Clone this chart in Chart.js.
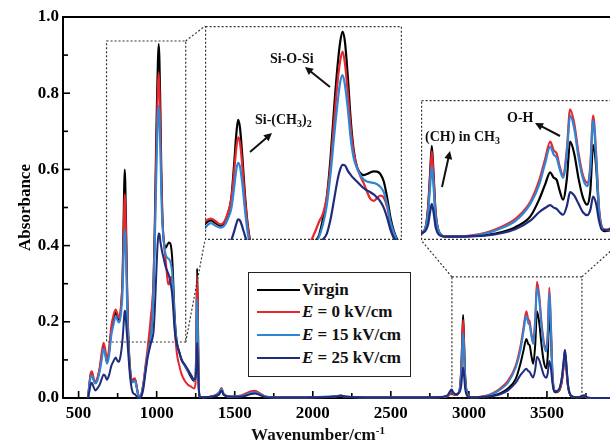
<!DOCTYPE html>
<html>
<head>
<meta charset="utf-8">
<script src="https://cdn.jsdelivr.net/npm/chart.js@4.4.0/dist/chart.umd.min.js"></script>
<style>
  html, body { margin:0; padding:0; background:#fff; overflow:hidden; }
  #wrap { position:relative; width:610px; height:440px; overflow:hidden; }
  canvas { position:absolute; }
  .txt { position:absolute; font-family:'Liberation Serif','Times New Roman',serif; font-weight:bold; white-space:nowrap; color:#111; }
  .note { font-size:14px; line-height:16px; }
  .note sub { font-size:10px; vertical-align:-3px; line-height:0; }
  #xtitle { font-size:17px; line-height:20px; left:0; width:636px; text-align:center; top:425px; }
  #xtitle sup { font-size:11px; vertical-align:6px; line-height:0; }
  #legend { position:absolute; left:248px; top:272px; width:161px; height:103px; border:1.5px solid #222; background:#fff; }
  #legend .key { position:absolute; left:8px; width:43px; height:2.5px; }
  #legend .lab { position:absolute; left:53px; font-size:17px; line-height:20px; }
</style>
</head>
<body>
<div id="wrap">
  <canvas id="mainChart" width="640" height="440" style="left:0;top:0"></canvas>
  <canvas id="inset1" width="197" height="214"></canvas>
  <canvas id="inset2" width="202" height="140"></canvas>
  <div class="txt note" style="left:270px;top:51px">Si-O-Si</div>
  <div class="txt note" style="left:255px;top:112px">Si-(CH<sub>3</sub>)<sub>2</sub></div>
  <div class="txt note" style="left:425px;top:129px">(CH) in CH<sub>3</sub></div>
  <div class="txt note" style="left:507px;top:110px">O-H</div>
  <div class="txt" id="xtitle">Wavenumber/cm<sup>-1</sup></div>
  <div id="legend"></div>
</div>
<script>
// spectra
const wavenumber = [560,568,577,585,595,607,620,635,648,660,
  670,681,695,710,725,738,748,758,766,774,
  781,787,791,795,799,804,809,815,822,830,
  840,850,860,870,880,891,903,915,928,942,
  955,964,972,980,988,996,1003,1008,1013,1018,
  1024,1030,1036,1043,1050,1057,1064,1071,1078,1085,
  1092,1099,1106,1113,1120,1130,1145,1160,1180,1200,
  1220,1238,1248,1254,1259,1264,1269,1276,1300,1360,
  1400,1415,1430,1480,1550,1600,1630,1660,1700,1800,
  2000,2150,2180,2210,2400,2600,2800,2860,2880,2890,
  2900,2920,2940,2950,2957,2963,2969,2976,2990,3010,
  3050,3100,3150,3200,3250,3300,3330,3350,3368,3380,
  3390,3400,3412,3425,3436,3450,3465,3480,3495,3505,
  3515,3525,3535,3545,3555,3568,3582,3596,3608,3615,
  3622,3635,3650,3670,3700,3740,3760,3800,3900,4000];

const virgin = [0,.03,.06,.065,.05,.04,.05,.075,.11,.135,
  .12,.095,.12,.18,.21,.225,.215,.205,.215,.25,
  .31,.44,.54,.60,.57,.46,.33,.21,.13,.075,
  .045,.048,.05,.035,.012,0,.01,.035,.075,.115,
  .145,.17,.23,.31,.46,.66,.81,.89,.929,.89,
  .76,.60,.49,.425,.402,.394,.398,.404,.408,.407,
  .398,.37,.31,.235,.185,.145,.12,.10,.085,.07,
  .055,.045,.05,.15,.34,.22,.05,.003,.002,.004,
  .01,.02,.008,.003,.005,.012,.015,.01,.003,.001,
  .002,.004,.006,.003,.001,.001,.002,.004,.012,.015,
  .01,.008,.02,.07,.15,.218,.15,.06,.01,.002,
  .002,.003,.006,.012,.025,.05,.09,.125,.155,.142,
  .137,.112,.09,.14,.228,.20,.14,.095,.078,.11,
  .22,.17,.06,.02,.015,.016,.022,.045,.09,.12,
  .09,.03,.008,.003,.002,.004,.001,0,0,0];

const e0 = [0,.035,.065,.07,.055,.042,.052,.08,.12,.145,
  .13,.10,.13,.19,.22,.232,.222,.21,.22,.255,
  .305,.41,.49,.535,.515,.425,.31,.205,.125,.075,
  .045,.05,.052,.035,.012,0,.012,.04,.085,.13,
  .18,.22,.25,.31,.43,.61,.75,.82,.855,.81,
  .70,.57,.48,.425,.39,.364,.332,.305,.298,.308,
  .318,.31,.275,.21,.16,.115,.085,.062,.045,.035,
  .03,.025,.035,.14,.32,.20,.045,.003,.002,.005,
  .015,.026,.01,.003,.008,.017,.019,.013,.003,.001,
  .002,.004,.006,.003,.001,.001,.002,.004,.01,.012,
  .01,.008,.02,.065,.14,.205,.14,.055,.01,.002,
  .002,.005,.012,.025,.045,.085,.135,.185,.228,.207,
  .20,.17,.148,.21,.305,.272,.20,.148,.13,.17,
  .29,.20,.07,.025,.018,.017,.022,.045,.09,.12,
  .09,.03,.008,.003,.002,.004,.001,0,0,0];

const e15 = [0,.03,.055,.06,.048,.038,.045,.07,.10,.13,
  .115,.09,.11,.165,.195,.215,.205,.198,.205,.232,
  .27,.35,.41,.44,.425,.36,.27,.18,.115,.065,
  .04,.042,.045,.03,.01,0,.01,.035,.075,.115,
  .14,.165,.21,.28,.40,.55,.67,.74,.767,.73,
  .64,.53,.46,.42,.395,.378,.37,.367,.365,.36,
  .35,.33,.285,.22,.18,.14,.12,.10,.085,.07,
  .06,.048,.05,.11,.26,.16,.04,.003,.002,.005,
  .014,.024,.01,.003,.006,.013,.015,.01,.003,.001,
  .002,.005,.007,.003,.001,.001,.002,.005,.015,.018,
  .012,.01,.02,.055,.12,.17,.12,.05,.01,.002,
  .002,.004,.01,.022,.04,.08,.125,.175,.216,.197,
  .19,.164,.142,.20,.29,.26,.19,.14,.122,.16,
  .278,.19,.065,.022,.018,.019,.027,.055,.10,.126,
  .10,.035,.008,.003,.002,.008,.001,0,0,0];

const e25 = [0,.015,.035,.04,.03,.02,.025,.035,.05,.062,
  .058,.048,.06,.085,.098,.106,.098,.095,.105,.125,
  .152,.185,.21,.229,.225,.20,.17,.135,.095,.055,
  .025,.012,.01,.005,.001,0,.005,.025,.065,.105,
  .13,.145,.155,.175,.23,.31,.38,.415,.432,.43,
  .41,.395,.382,.37,.357,.345,.337,.33,.322,.31,
  .295,.272,.235,.19,.16,.14,.12,.10,.088,.075,
  .06,.05,.05,.08,.145,.095,.03,.003,.002,.004,
  .01,.02,.008,.003,.004,.01,.012,.008,.002,.001,
  .002,.004,.006,.003,.001,.001,.002,.006,.018,.022,
  .015,.01,.015,.03,.06,.08,.06,.025,.005,.002,
  .002,.003,.005,.01,.02,.04,.06,.07,.077,.071,
  .068,.06,.054,.075,.108,.10,.08,.06,.053,.065,
  .097,.08,.04,.018,.018,.019,.027,.055,.10,.126,
  .10,.035,.008,.003,.002,.006,.001,0,0,0];

const seriesLabels = ["Virgin", "E = 0 kV/cm", "E = 15 kV/cm", "E = 25 kV/cm"];
const seriesColors = ["#000000", "#e8262d", "#2f86d4", "#1e2c7a"];
const xTickValues = [500, 1000, 1500, 2000, 2500, 3000, 3500];
const yTickValues = [0, 0.2, 0.4, 0.6, 0.8, 1.0];

// zoomed regions (data coords) and where their insets sit on the page
const zoomBoxes = [
  {xMin: 679, xMax: 1186, yMin: 0.147, yMax: 0.937},
  {xMin: 2891, xMax: 3724, yMin: 0, yMax: 0.318}
];
const insets = [
  {id: "inset1", left: 205, top: 26, width: 197, height: 214, xMin: 726, xMax: 1137, yMin: 0.152, yMax: 0.95},
  {id: "inset2", left: 421, top: 100, width: 202, height: 140, xMin: 2926, xMax: 3617, yMin: -0.006, yMax: 0.327}
];

const serif = "'Liberation Serif', 'Times New Roman', serif";
const allSeries = [virgin, e0, e15, e25];

function makeDatasets(lineWidth, clip) {
  return allSeries.map(function(values, k) {
    return {
      label: seriesLabels[k],
      data: wavenumber.map(function(x, i) { return {x: x, y: values[i]}; }),
      borderColor: seriesColors[k],
      borderWidth: lineWidth,
      pointRadius: 0,
      fill: false,
      order: 4 - k,
      clip: clip
    };
  });
}

function arrow(ctx, x1, y1, x2, y2) {
  var ang = Math.atan2(y2 - y1, x2 - x1);
  var hl = 8, hw = 4;
  ctx.beginPath();
  ctx.moveTo(x1, y1);
  ctx.lineTo(x2 - Math.cos(ang) * hl * 0.8, y2 - Math.sin(ang) * hl * 0.8);
  ctx.stroke();
  ctx.beginPath();
  ctx.moveTo(x2, y2);
  ctx.lineTo(x2 - hl * Math.cos(ang) + hw * Math.sin(ang), y2 - hl * Math.sin(ang) - hw * Math.cos(ang));
  ctx.lineTo(x2 - hl * Math.cos(ang) - hw * Math.sin(ang), y2 - hl * Math.sin(ang) + hw * Math.cos(ang));
  ctx.closePath();
  ctx.fill();
}

const frameAndTicks = {
  id: "frameAndTicks",
  beforeDatasetsDraw(chart) {
    const ctx = chart.ctx, area = chart.chartArea;
    const xs = chart.scales.x, ys = chart.scales.y;
    ctx.save();
    ctx.strokeStyle = "#000";
    ctx.lineWidth = 2;
    // top frame
    ctx.beginPath();
    ctx.moveTo(area.left - 1, area.top);
    ctx.lineTo(area.right + 1, area.top);
    ctx.stroke();
    ctx.lineWidth = 1.6;
    for (var v = 500; v < 4000; v += 250) {
      var px = xs.getPixelForValue(v);
      var len = v % 500 === 0 ? 7 : 5;
      ctx.beginPath();
      ctx.moveTo(px, area.bottom);
      ctx.lineTo(px, area.bottom - len);
      ctx.stroke();
    }
    for (var j = 1; j < 10; j++) {
      var py = ys.getPixelForValue(j / 10);
      var l = j % 2 === 0 ? 7 : 5;
      ctx.beginPath();
      ctx.moveTo(area.left, py);
      ctx.lineTo(area.left + l, py);
      ctx.stroke();
    }
    ctx.restore();
  },
  afterDatasetsDraw(chart) {
    const ctx = chart.ctx;
    const xs = chart.scales.x, ys = chart.scales.y;
    ctx.save();
    ctx.strokeStyle = "#333";
    ctx.lineWidth = 1.2;
    ctx.setLineDash([2, 2]);
    var b = zoomBoxes.map(function(z) {
      return {l: xs.getPixelForValue(z.xMin), r: xs.getPixelForValue(z.xMax),
              t: ys.getPixelForValue(z.yMax), btm: ys.getPixelForValue(z.yMin)};
    });
    b.forEach(function(r) { ctx.strokeRect(r.l, r.t, r.r - r.l, r.btm - r.t); });
    var a = insets[0], c = insets[1];
    ctx.beginPath();
    ctx.moveTo(b[0].r, b[0].t); ctx.lineTo(a.left, a.top);
    ctx.moveTo(b[0].r, b[0].btm); ctx.lineTo(a.left, a.top + a.height);
    ctx.moveTo(b[1].l, b[1].t); ctx.lineTo(c.left, c.top + c.height);
    ctx.moveTo(b[1].r, b[1].t); ctx.lineTo(c.left + c.width, c.top + c.height);
    ctx.stroke();
    ctx.setLineDash([]);
    ctx.strokeStyle = "#111";
    ctx.fillStyle = "#111";
    ctx.lineWidth = 2;
    arrow(ctx, 250, 152, 272, 133);
    arrow(ctx, 330, 87, 305, 67);
    arrow(ctx, 442, 187, 450, 151);
    arrow(ctx, 560, 136, 535, 123);
    ctx.restore();
  }
};

const tickFont = {family: serif, size: 17, weight: "bold"};

new Chart(document.getElementById("mainChart"), {
  type: "line",
  data: {datasets: makeDatasets(2, 3)},
  options: {
    responsive: false,
    animation: false,
    layout: {padding: {top: 17, right: 15, left: 0, bottom: 0}},
    plugins: {legend: {display: false}, tooltip: {enabled: false}},
    elements: {line: {cubicInterpolationMode: "monotone"}},
    scales: {
      x: {
        type: "linear", min: 400, max: 4000,
        afterBuildTicks: function(s) { s.ticks = xTickValues.map(function(v) { return {value: v}; }); },
        afterFit: function(s) { s.height = 42; },
        grid: {display: false, drawTicks: false},
        border: {display: true, width: 2, color: "#000"},
        ticks: {font: tickFont, color: "#000", padding: 5, maxRotation: 0, autoSkip: false,
                callback: function(v) { return String(v); }}
      },
      y: {
        min: 0, max: 1,
        afterBuildTicks: function(s) { s.ticks = yTickValues.map(function(v) { return {value: v}; }); },
        afterFit: function(s) { s.width = 63; },
        grid: {display: false, drawTicks: false},
        border: {display: true, width: 2, color: "#000"},
        ticks: {font: tickFont, color: "#000", padding: 4,
                callback: function(v) { return Number(v).toFixed(1); }},
        title: {display: true, text: "Absorbance", font: tickFont, color: "#000", padding: {top: 15, bottom: 0}}
      }
    }
  },
  plugins: [frameAndTicks]
});

const dottedBorder = {
  id: "dottedBorder",
  afterDraw(chart) {
    const ctx = chart.ctx, a = chart.chartArea;
    ctx.save();
    ctx.strokeStyle = "#333";
    ctx.lineWidth = 1.2;
    ctx.setLineDash([2, 2]);
    ctx.strokeRect(a.left + 0.6, a.top + 0.6, a.right - a.left - 1.2, a.bottom - a.top - 1.2);
    ctx.restore();
  }
};

insets.forEach(function(box) {
  const cv = document.getElementById(box.id);
  cv.style.left = box.left + "px";
  cv.style.top = box.top + "px";
  new Chart(cv, {
    type: "line",
    data: {datasets: makeDatasets(2.2, 0)},
    options: {
      responsive: false,
      animation: false,
      layout: {padding: 0},
      plugins: {legend: {display: false}, tooltip: {enabled: false}},
      elements: {line: {cubicInterpolationMode: "monotone"}},
      scales: {
        x: {type: "linear", display: false, min: box.xMin, max: box.xMax},
        y: {display: false, min: box.yMin, max: box.yMax}
      }
    },
    plugins: [dottedBorder]
  });
});

// legend
const legend = document.getElementById("legend");
const rowCenters = [17, 39, 62, 85];
seriesLabels.forEach(function(name, k) {
  const key = document.createElement("div");
  key.className = "key";
  key.style.top = (rowCenters[k] - 1.25) + "px";
  key.style.background = seriesColors[k];
  legend.appendChild(key);
  const lab = document.createElement("div");
  lab.className = "txt lab";
  lab.style.top = (rowCenters[k] - 10) + "px";
  lab.innerHTML = name.replace(/^E/, "<i>E</i>");
  legend.appendChild(lab);
});
</script>
</body>
</html>
